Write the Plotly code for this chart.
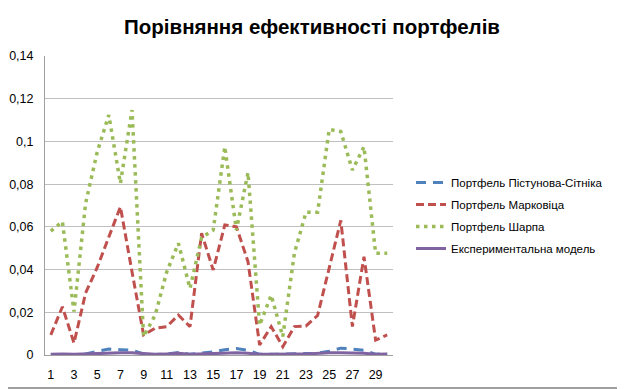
import plotly.graph_objects as go

periods = list(range(1, 31))

pistunova = [0.0002, 0.0002, 0.0001, 0.0005, 0.0015, 0.0028, 0.0025, 0.0022, 0.0005, 0.0002,
             0.0005, 0.0012, 0.0003, 0.0008, 0.0015, 0.0025, 0.0030, 0.0022, 0.0003, 0.0003,
             0.0004, 0.0005, 0.0005, 0.0008, 0.0018, 0.0032, 0.0028, 0.0022, 0.0004, 0.0006]

markowitz = [0.0094, 0.0226, 0.0056, 0.0290, 0.0410, 0.0550, 0.0694, 0.0390, 0.0094, 0.0126,
             0.0133, 0.0187, 0.0133, 0.0570, 0.0398, 0.0609, 0.0600, 0.0437, 0.0047, 0.0133,
             0.0039, 0.0133, 0.0136, 0.0185, 0.0410, 0.0630, 0.0133, 0.0460, 0.0070, 0.0094]

sharpe = [0.0580, 0.0625, 0.0203, 0.0710, 0.0950, 0.1124, 0.0804, 0.1147, 0.0086, 0.0187,
          0.0390, 0.0523, 0.0312, 0.0550, 0.0585, 0.0975, 0.0585, 0.0854, 0.0140, 0.0280,
          0.0086, 0.0477, 0.0668, 0.0668, 0.1056, 0.1046, 0.0866, 0.0975, 0.0476, 0.0476]

experimental = [0.0003, 0.0005, 0.0003, 0.0005, 0.0008, 0.0010, 0.0010, 0.0010, 0.0005, 0.0003,
                0.0005, 0.0008, 0.0003, 0.0005, 0.0008, 0.0010, 0.0010, 0.0008, 0.0003, 0.0003,
                0.0005, 0.0005, 0.0005, 0.0008, 0.0010, 0.0010, 0.0010, 0.0008, 0.0003, 0.0005]

series_names = ["Портфель Пістунова-Сітніка", "Портфель Марковіца",
                "Портфель Шарпа", "Експериментальна модель"]

y_tick_vals = [0, 0.02, 0.04, 0.06, 0.08, 0.1, 0.12, 0.14]
y_tick_text = ["0", "0,02", "0,04", "0,06", "0,08", "0,1", "0,12", "0,14"]
x_tick_vals = list(range(1, 30, 2))

title_text = "Порівняння ефективності портфелів"

# The page body has an 8px margin, so the figure is drawn 8px smaller and offset.
OFF = 8
W, H = 625 - OFF, 389 - OFF

fig = go.Figure()

styles = [
    dict(color="#4F81BD", width=3, dash="10px,7px"),
    dict(color="#C0504D", width=3, dash="8px,4px"),
    dict(color="#9BBB59", width=3.5, dash="3.5px,4.5px"),
    dict(color="#8064A2", width=3, dash="solid"),
]

for name, vals, st, grp in zip(series_names, [pistunova, markowitz, sharpe, experimental],
                                styles, ["a", "b", "c", "d"]):
    fig.add_trace(go.Scatter(x=periods, y=vals, mode="lines", name=name,
                             line=st, legendgroup=grp))

fig.update_layout(
    width=W, height=H,
    paper_bgcolor="white", plot_bgcolor="white",
    margin=dict(l=45 - OFF, r=232, t=56 - OFF, b=34, autoexpand=False),
    title=dict(text="<b>" + title_text + "</b>", x=(312 - OFF) / W, xanchor="center",
               y=1 - (27 - OFF) / H, yanchor="middle",
               font=dict(family="Liberation Sans, Arial, sans-serif", size=20.5, color="black")),
    font=dict(family="Liberation Sans, Arial, sans-serif", size=11, color="black"),
    showlegend=True,
    legend=dict(xref="container", yref="container", x=(411 - OFF) / W, y=1 - (168 - OFF) / H,
                xanchor="left", yanchor="top", tracegroupgap=3,
                traceorder="grouped",
                font=dict(family="Liberation Sans, Arial, sans-serif", size=11.5, color="black"),
                bgcolor="rgba(0,0,0,0)", itemwidth=30),
    xaxis=dict(range=[0.5, 30.5], tickvals=x_tick_vals, ticktext=[str(v) for v in x_tick_vals],
               showgrid=False, showline=True, linecolor="#a0a0a0", linewidth=1,
               ticks="", zeroline=False, tickfont=dict(size=12.5), ticklabelstandoff=8,
               automargin=False),
    yaxis=dict(range=[0, 0.14], tickvals=y_tick_vals, ticktext=y_tick_text,
               showgrid=True, gridcolor="#c0c0c0", gridwidth=1,
               showline=True, linecolor="#a0a0a0", linewidth=1,
               ticks="", zeroline=False, tickfont=dict(size=12.5), ticklabelstandoff=8,
               automargin=False),
)

# outer chart border (right and bottom edges are inside the visible window)
fig.add_shape(type="rect", xref="paper", yref="paper",
              x0=-60 / 348, x1=(W - (45 - OFF) - 1) / 348,
              y0=-(34 - 1) / 299, y1=(H - 34 + 20) / 299,
              line=dict(color="#808080", width=1.5), layer="above")

fig.write_html("out.html")
